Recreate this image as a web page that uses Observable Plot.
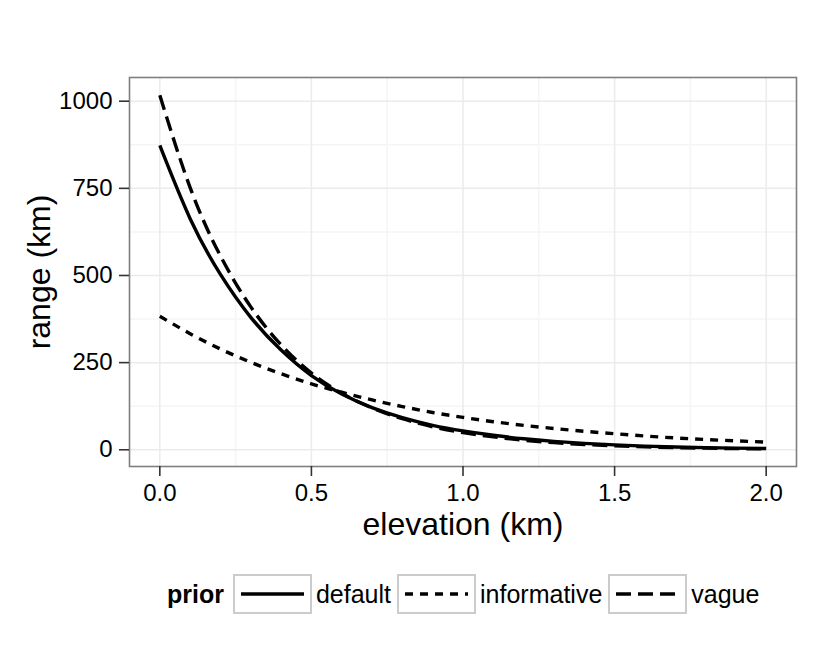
<!DOCTYPE html>
<html>
<head>
<meta charset="utf-8">
<script src="https://cdn.jsdelivr.net/npm/d3@7"></script>
<script src="https://cdn.jsdelivr.net/npm/@observablehq/plot@0.6"></script>
<style>
  html, body { margin: 0; padding: 0; background: #ffffff; }
  body { width: 830px; height: 664px; overflow: hidden; font-family: "Liberation Sans", Arial, sans-serif; }
  #legend { display: flex; align-items: center; margin-top: 14px; margin-left: 167px; height: 40px; font-size: 25px; color: #000; }
  #legend .title { font-weight: bold; margin-right: 9px; }
  #legend .lab { margin-left: 4px; margin-right: 6px; }
  #legend svg { display: block; }
</style>
</head>
<body>
<div id="chart"></div>
<div id="legend"></div>
<script>
// ---- data ----
const elevation = [0, 0.1, 0.2, 0.3, 0.4, 0.5, 0.6, 0.7, 0.8, 0.9, 1.0, 1.1, 1.2, 1.3, 1.4, 1.5, 1.6, 1.7, 1.8, 1.9, 2.0];
const priors = ["default", "informative", "vague"];
const rangeDefault     = [873, 663, 503, 380, 286, 213, 160, 121, 92, 70, 54, 41.5, 31.5, 24, 18.3, 14, 10.6, 8.1, 6.2, 4.7, 3.6];
const rangeInformative = [383, 333, 289, 251, 218, 189, 165, 143, 124, 107, 93, 80.5, 70, 61, 53, 46, 39.5, 34, 29.5, 25.5, 22];
const rangeVague       = [1017, 752, 556, 410, 301, 220, 162, 120, 89, 66, 49.5, 37, 27.5, 20.5, 15.2, 11.3, 8.4, 6.2, 4.6, 3.4, 2.5];
const xTicks = [0, 0.5, 1.0, 1.5, 2.0];
const xMinorTicks = [0.25, 0.75, 1.25, 1.75];
const yTicks = [0, 250, 500, 750, 1000];
const yMinorTicks = [125, 375, 625, 875];
const xTitle = "elevation (km)";
const yTitle = "range (km)";
const legendTitle = "prior";

const seriesValues = {default: rangeDefault, informative: rangeInformative, vague: rangeVague};
const dashes = {default: null, informative: "8,7", vague: "15,7"};
const rows = priors.flatMap(p => elevation.map((e, i) => ({prior: p, elevation: e, range: seriesValues[p][i]})));

const lineWidth = 3.4;

const lineMarks = priors.map(p => Plot.line(rows.filter(d => d.prior === p), {
  x: "elevation", y: "range", stroke: "#000", strokeWidth: lineWidth,
  strokeDasharray: dashes[p] || undefined, curve: "natural", strokeLinecap: "butt"
}));

const chart = Plot.plot({
  width: 830,
  height: 560,
  marginLeft: 129,
  marginRight: 34,
  marginTop: 77,
  marginBottom: 94,
  style: {fontFamily: "Liberation Sans, Arial, sans-serif", background: "#ffffff", color: "#000"},
  x: {domain: [-0.1, 2.1]},
  y: {domain: [-48, 1068]},
  marks: [
    Plot.ruleX(xMinorTicks, {stroke: "#f5f5f5", strokeWidth: 1.5}),
    Plot.ruleY(yMinorTicks, {stroke: "#f5f5f5", strokeWidth: 1.5}),
    Plot.ruleX(xTicks, {stroke: "#ebebeb", strokeWidth: 1.5}),
    Plot.ruleY(yTicks, {stroke: "#ebebeb", strokeWidth: 1.5}),
    ...lineMarks,
    Plot.frame({stroke: "#7f7f7f", strokeWidth: 1.6}),
    Plot.axisX(xTicks, {tickSize: 10, tickPadding: 7, fontSize: 24, tickFormat: d3.format(".1f"), stroke: "#333", strokeWidth: 1.6, fill: "#000", label: null}),
    Plot.axisY(yTicks, {tickSize: 10, tickPadding: 7, fontSize: 24, tickFormat: d3.format("d"), stroke: "#333", strokeWidth: 1.6, fill: "#000", label: null}),
    Plot.text([xTitle], {frameAnchor: "bottom", lineAnchor: "middle", textAnchor: "middle", dy: 58, fontSize: 32, fill: "#000", text: d => d}),
    Plot.text([yTitle], {frameAnchor: "left", lineAnchor: "middle", textAnchor: "middle", dx: -90, rotate: -90, fontSize: 32, fill: "#000", text: d => d})
  ]
});
document.getElementById("chart").appendChild(chart);

// ---- legend ----
const legend = document.getElementById("legend");
const t = document.createElement("span");
t.className = "title";
t.textContent = legendTitle;
legend.appendChild(t);
const ns = "http://www.w3.org/2000/svg";
priors.forEach(p => {
  const svg = document.createElementNS(ns, "svg");
  svg.setAttribute("width", 79);
  svg.setAttribute("height", 40);
  const r = document.createElementNS(ns, "rect");
  r.setAttribute("x", 1); r.setAttribute("y", 1);
  r.setAttribute("width", 77); r.setAttribute("height", 38);
  r.setAttribute("fill", "#fff"); r.setAttribute("stroke", "#cccccc"); r.setAttribute("stroke-width", 2);
  svg.appendChild(r);
  const l = document.createElementNS(ns, "line");
  l.setAttribute("x1", 8); l.setAttribute("x2", 71);
  l.setAttribute("y1", 20); l.setAttribute("y2", 20);
  l.setAttribute("stroke", "#000"); l.setAttribute("stroke-width", lineWidth);
  if (dashes[p]) l.setAttribute("stroke-dasharray", dashes[p]);
  svg.appendChild(l);
  legend.appendChild(svg);
  const s = document.createElement("span");
  s.className = "lab";
  s.textContent = p;
  legend.appendChild(s);
});
</script>
</body>
</html>
